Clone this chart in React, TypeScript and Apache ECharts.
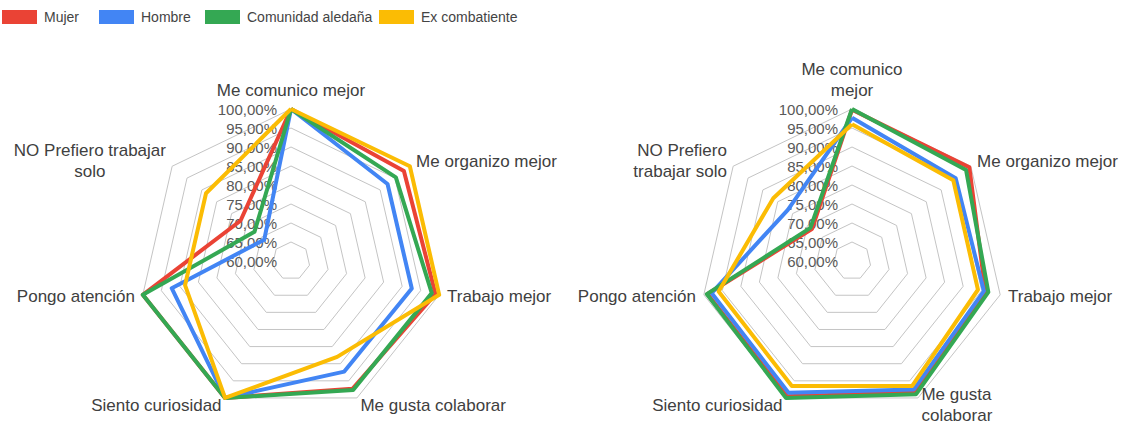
import React, { useEffect, useRef } from "react";
import * as echarts from "echarts";

// Axes in clockwise order starting at the top
const leftAxes = [
  "Me comunico mejor",
  "Me organizo mejor",
  "Trabajo mejor",
  "Me gusta colaborar",
  "Siento curiosidad",
  "Pongo atención",
  "NO Prefiero trabajar\nsolo",
];
const rightAxes = [
  "Me comunico\nmejor",
  "Me organizo mejor",
  "Trabajo mejor",
  "Me gusta\ncolaborar",
  "Siento curiosidad",
  "Pongo atención",
  "NO Prefiero\ntrabajar solo",
];

const groups = ["Mujer", "Hombre", "Comunidad aledaña", "Ex combatiente"];
const colors = ["#EA4335", "#4285F4", "#34A853", "#FBBC04"];

// values in % (same clockwise order as the axes)
const leftMujer = [100, 98, 99, 97.3, 100, 100, 77];
const leftHombre = [100, 92.5, 92.6, 92.3, 100, 92.2, 69];
const leftComunidad = [100, 95.3, 98, 97.7, 100, 100, 72.3];
const leftEx = [100, 100, 100, 88, 100, 88.6, 88.6];

const rightMujer = [99.8, 99.5, 96, 98.4, 99.5, 99, 73.5];
const rightHombre = [97.7, 94.9, 95.6, 97.5, 98.5, 97.9, 81.6];
const rightComunidad = [100, 98.4, 96.8, 98.9, 100, 99.2, 74];
const rightEx = [96, 94.1, 94, 96.5, 96.5, 96, 86.5];

const axisMin = 60;
const axisMax = 100;
const axisSplits = 8;

// ECharts radar places indicators counter-clockwise; reorder to clockwise
const order = [0, 6, 5, 4, 3, 2, 1];

const FONT = "'Liberation Sans', Arial, sans-serif";
const legendLefts = [2, 99, 205, 379];

function buildRadar(names: string[], center: number[]) {
  return {
    center,
    radius: 152,
    startAngle: 90,
    shape: "polygon",
    splitNumber: axisSplits,
    nameGap: 8,
    indicator: order.map((i) => ({
      name: names[i],
      min: axisMin,
      max: axisMax,
      ...(i === 0
        ? {
            axisLabel: {
              show: true,
              color: "#595959",
              fontSize: 15,
              fontFamily: FONT,
              margin: 14,
              formatter: (v: number) => v.toFixed(2).replace(".", ",") + "%",
            },
          }
        : {}),
    })),
    axisName: {
      color: "#404040",
      fontSize: 17,
      fontFamily: FONT,
      lineHeight: 21,
      formatter: (n: string) =>
        n.indexOf("trabajar\n") >= 0
          ? n
              .split("\n")
              .map((s) => "{c|" + s + "}")
              .join("\n")
          : n,
      rich: {
        c: {
          width: 152,
          align: "center",
          fontSize: 17,
          fontFamily: FONT,
          color: "#404040",
          lineHeight: 21,
        },
      },
    },
    splitLine: { lineStyle: { color: "#c4c4c4", width: 1 } },
    splitArea: { show: false },
    axisLine: { show: false },
    axisTick: { show: false },
    axisLabel: { show: false },
  };
}

export default function App() {
  const ref = useRef<HTMLDivElement>(null);
  useEffect(() => {
    if (!ref.current) return;
    const chart = echarts.init(ref.current, undefined, { renderer: "svg" });
    const leftData = [leftMujer, leftHombre, leftComunidad, leftEx];
    const rightData = [rightMujer, rightHombre, rightComunidad, rightEx];
    const series: any[] = [];
    [leftData, rightData].forEach((set, ri) => {
      set.forEach((vals, gi) => {
        series.push({
          type: "radar",
          name: groups[gi],
          radarIndex: ri,
          symbol: "none",
          color: colors[gi],
          lineStyle: { color: colors[gi], width: 4 },
          z: 2 + gi,
          data: [{ name: groups[gi], value: order.map((i) => vals[i]) }],
        });
      });
    });
    const legends = groups.map((g, gi) => ({
      data: [g],
      left: legendLefts[gi],
      top: 10,
      padding: 0,
      icon: "rect",
      itemWidth: 35,
      itemHeight: 14,
      textStyle: {
        color: "#444444",
        fontSize: 14,
        fontFamily: FONT,
        padding: [0, 0, 0, 2],
      },
    }));
    chart.setOption({
      animation: false,
      backgroundColor: "#ffffff",
      legend: legends,
      radar: [buildRadar(leftAxes, [291, 261]), buildRadar(rightAxes, [852, 261])],
      series,
    });
    return () => chart.dispose();
  }, []);
  return (
    <div
      ref={ref}
      style={{ position: "fixed", left: 0, top: 0, width: 1129, height: 429 }}
    />
  );
}
